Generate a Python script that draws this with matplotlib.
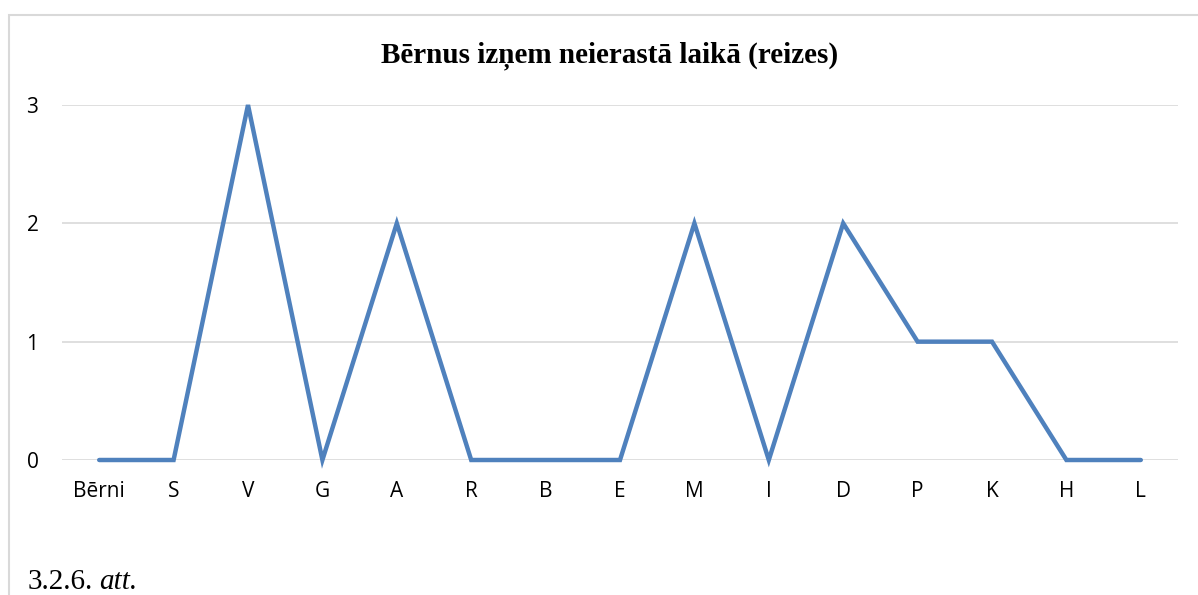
import matplotlib.pyplot as plt
from matplotlib.patches import Rectangle

categories = ["Bērni", "S", "V", "G", "A", "R", "B", "E", "M", "I", "D", "P", "K", "H", "L"]
values = [0, 0, 3, 0, 2, 0, 0, 0, 2, 0, 2, 1, 1, 0, 0]

W, H = 1198, 595
fig = plt.figure(figsize=(W / 100, H / 100), dpi=100)

# light frame around the chart (left + top visible, rest runs off the picture)
fig.patches.append(Rectangle((8.5 / W, -0.1), 1.2, (H - 14.5) / H + 0.1,
                             transform=fig.transFigure, fill=False,
                             edgecolor="#d9d9d9", linewidth=1.5))

ax = fig.add_axes([62 / W, (H - 460) / H, (1178 - 62) / W, (460 - 105) / H])
x = range(len(categories))
ax.plot(x, values, color="#4f81bd", linewidth=3.2, solid_capstyle="round",
        solid_joinstyle="miter", clip_on=False, zorder=3)

ax.set_xlim(-0.5, len(categories) - 0.5)
ax.set_ylim(0, 3)
ax.set_yticks([0, 1, 2, 3])
ax.grid(axis="y", color="#d9d9d9", linewidth=1.2)
ax.set_axisbelow(True)
for s in ax.spines.values():
    s.set_visible(False)
ax.tick_params(length=0, labelsize=15, colors="black")
ax.tick_params(axis="x", pad=15)
ax.tick_params(axis="y", pad=17)
ax.set_xticks(list(x))
ax.set_xticklabels(categories, fontfamily="Open Sans")
for lbl in ax.get_yticklabels():
    lbl.set_fontfamily("Open Sans")

fig.text(610 / W, 1 - 56 / H, "Bērnus izņem neierastā laikā (reizes)",
         ha="center", va="center", fontsize=21, fontweight="bold",
         family="Liberation Serif")

# caption: upright number, italic "att."
cap = fig.text(28 / W, 1 - 589 / H, "3.2.6.", ha="left", va="baseline",
               fontsize=21, family="Liberation Serif")
fig.canvas.draw()
bb = cap.get_window_extent()
fig.text((bb.x1 + 6) / W, 1 - 589 / H, "att.", ha="left", va="baseline",
         fontsize=21, family="Liberation Serif", style="italic")

fig.savefig("out.png", dpi=100)
